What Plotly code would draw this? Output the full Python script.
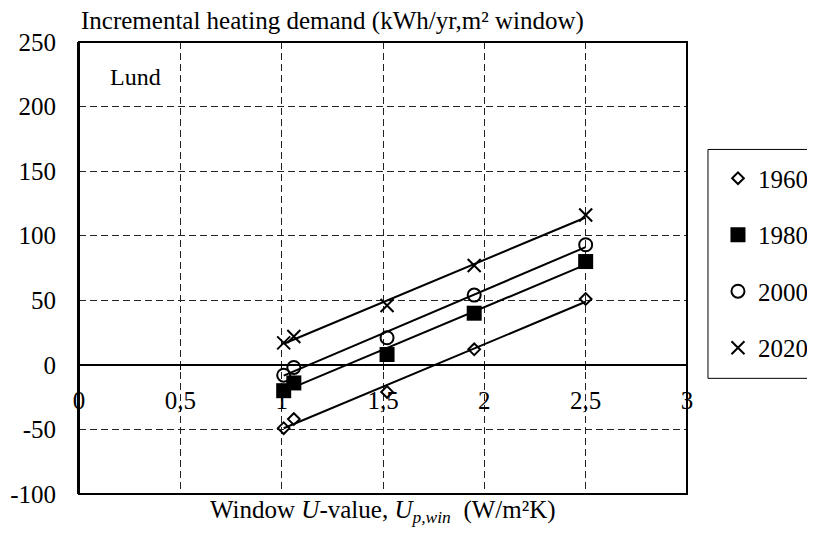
import numpy as np
import plotly.graph_objects as go

# ---- data ----
u_values = [1.01, 1.06, 1.52, 1.95, 2.5]
demand_1960 = [-49, -42, -21, 12, 51]
demand_1980 = [-20, -14, 8, 40, 80]
demand_2000 = [-8, -2, 21, 54, 93]
demand_2020 = [17, 22, 46, 77, 116]

series_names = ["1960", "1980", "2000", "2020"]
series_values = [demand_1960, demand_1980, demand_2000, demand_2020]

x_ticks = [0, 0.5, 1, 1.5, 2, 2.5, 3]
x_ticklabels = ["0", "0,5", "1", "1,5", "2", "2,5", "3"]
y_ticks = [-100, -50, 0, 50, 100, 150, 200, 250]
y_ticklabels = ["-100", "-50", "0", "50", "100", "150", "200", "250"]

title_text = "Incremental heating demand (kWh/yr,m² window)"
xtitle_text = "Window <i>U</i>-value, <i>U</i><sub><i>p,win</i></sub>  (W/m²K)"
place_text = "Lund"

# ---- styles ----
FONT = "Liberation Serif"
FS = 25
markers = [
    dict(symbol="diamond-open", size=9, color="black", line=dict(width=2, color="black")),
    dict(symbol="square", size=15, color="black", line=dict(width=0)),
    dict(symbol="circle-open", size=13, color="black", line=dict(width=2, color="black")),
    dict(symbol="x-thin", size=13, color="black", line=dict(width=2, color="black")),
]

fig = go.Figure()

# trendlines (least-squares fit of each series)
xs = np.array(u_values)
for name, vals in zip(series_names, series_values):
    k, m = np.polyfit(xs, np.array(vals, dtype=float), 1)
    xl = np.array([xs.min(), xs.max()])
    fig.add_trace(go.Scatter(x=xl, y=k * xl + m, mode="lines",
                             line=dict(color="black", width=2),
                             showlegend=False, hoverinfo="skip"))

for name, vals, mk in zip(series_names, series_values, markers):
    fig.add_trace(go.Scatter(x=u_values, y=vals, mode="markers", name=name,
                             marker=mk, legendgroup=name))

zero_pos = (0 - y_ticks[0]) / (y_ticks[-1] - y_ticks[0])

fig.update_layout(
    width=815, height=550,
    margin=dict(l=71, r=136, t=34, b=64, autoexpand=False),
    paper_bgcolor="white", plot_bgcolor="white",
    font=dict(family=FONT, size=FS, color="black"),
    xaxis=dict(range=[0, 3], tickvals=x_ticks, ticktext=x_ticklabels,
               anchor="free", position=zero_pos,
               showline=True, linecolor="black", linewidth=2,
               ticks="outside", ticklen=4, tickcolor="black", tickwidth=1,
               ticklabelstandoff=9,
               showgrid=True, gridcolor="#222", gridwidth=1, griddash="7px,4px",
               zeroline=False, tickfont=dict(family=FONT, size=FS)),
    yaxis=dict(range=[-100, 250], tickvals=y_ticks, ticktext=y_ticklabels,
               showline=True, linecolor="black", linewidth=2,
               ticks="", ticklabelstandoff=16,
               showgrid=True, gridcolor="#222", gridwidth=1, griddash="7px,4px",
               zeroline=False, tickfont=dict(family=FONT, size=FS)),
    legend=dict(x=1.0345, y=0.749, xanchor="left", yanchor="top",
                borderwidth=0, bgcolor="rgba(0,0,0,0)",
                font=dict(family=FONT, size=FS), tracegroupgap=21,
                indentation=10),
    showlegend=True,
)

# plot frame
fig.add_shape(type="rect", xref="paper", yref="paper", x0=0, x1=1, y0=0, y1=1,
              line=dict(color="black", width=2), layer="above")
# legend frame (runs off the right edge as in the reference)
fig.add_shape(type="rect", xref="paper", yref="paper", x0=1.0345, x1=1.4,
              y0=0.2559, y1=0.7623, line=dict(color="black", width=1), layer="below")

fig.add_annotation(text=title_text, xref="paper", yref="paper", x=0, y=1,
                   xanchor="left", yanchor="bottom", yshift=5, showarrow=False,
                   font=dict(family=FONT, size=FS))
fig.add_annotation(text=place_text, xref="paper", yref="paper", x=0.0477, y=0.9215,
                   xanchor="left", yanchor="middle", showarrow=False,
                   font=dict(family=FONT, size=FS - 1))
fig.add_annotation(text=xtitle_text, xref="paper", yref="paper", x=0.5, y=-0.039,
                   xanchor="center", yanchor="middle", showarrow=False,
                   font=dict(family=FONT, size=FS))

fig.write_html("out.html")
